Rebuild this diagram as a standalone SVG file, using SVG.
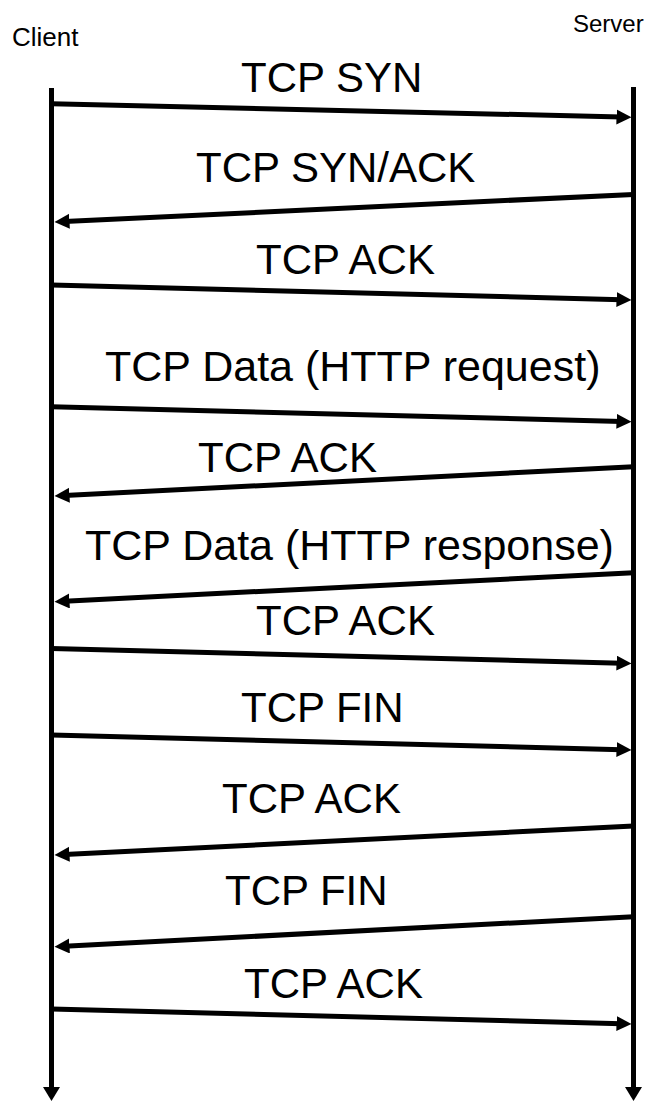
<svg xmlns="http://www.w3.org/2000/svg" width="653" height="1101" viewBox="0 0 653 1101">
  <style>
    .lbl { font-family: "Liberation Sans", Arial, sans-serif; font-size: 42px; fill: #000; }
    .wide { font-size: 43px; }
    .hdr { font-family: "Liberation Sans", Arial, sans-serif; fill: #000; }
    .life { stroke: #000; stroke-width: 5; fill: none; marker-end: url(#headDown); }
    .msg { stroke: #000; stroke-width: 5; fill: none; marker-end: url(#head); }
  </style>
  <defs>
    <marker id="head" markerUnits="userSpaceOnUse" markerWidth="16" markerHeight="16" refX="5" refY="7.5" orient="auto">
      <path d="M0,0 L15,7.5 L0,15 Z" fill="#000"/>
    </marker>
    <marker id="headDown" markerUnits="userSpaceOnUse" markerWidth="18" markerHeight="18" refX="4" refY="8.5" orient="auto">
      <path d="M0,0 L14,8.5 L0,17 Z" fill="#000"/>
    </marker>
  </defs>
  <rect width="653" height="1101" fill="#fff"/>

  <!-- lifelines -->
  <g id="client">
    <text class="hdr" x="12" y="46" font-size="26">Client</text>
    <path class="life" d="M51.5,88 L51.5,1091"/>
  </g>
  <g id="server">
    <text class="hdr" x="573" y="31.5" font-size="24">Server</text>
    <path class="life" d="M633.5,87 L633.5,1091"/>
  </g>

  <!-- messages -->
  <g id="connectors">
    <path class="msg" d="M51.5,103.8 L621.5,117"/>
    <path class="msg" d="M633.5,194.4 L64.5,221.5"/>
    <path class="msg" d="M51.5,285 L621.5,299.7"/>
    <path class="msg" d="M51.5,406.7 L621.5,421.4"/>
    <path class="msg" d="M633.5,466.7 L64.5,495.5"/>
    <path class="msg" d="M633.5,572.7 L64.5,601.2"/>
    <path class="msg" d="M51.5,648.4 L621.5,663.2"/>
    <path class="msg" d="M51.5,735 L621.5,749.7"/>
    <path class="msg" d="M633.5,826 L64.5,854.5"/>
    <path class="msg" d="M633.5,916.7 L64.5,946.2"/>
    <path class="msg" d="M51.5,1009 L621.5,1023.7"/>
  </g>

  <!-- message labels -->
  <g id="labels">
    <text class="lbl" x="241" y="91.5">TCP SYN</text>
    <text class="lbl" x="196" y="181.5">TCP SYN/ACK</text>
    <text class="lbl" x="256" y="273.5">TCP ACK</text>
    <text class="lbl wide" x="105" y="381">TCP Data (HTTP request)</text>
    <text class="lbl" x="198" y="471.7">TCP ACK</text>
    <text class="lbl wide" x="85" y="560">TCP Data (HTTP response)</text>
    <text class="lbl" x="256" y="635">TCP ACK</text>
    <text class="lbl" x="241" y="721.7">TCP FIN</text>
    <text class="lbl" x="222" y="813">TCP ACK</text>
    <text class="lbl" x="225" y="905">TCP FIN</text>
    <text class="lbl" x="244" y="998">TCP ACK</text>
  </g>
</svg>
